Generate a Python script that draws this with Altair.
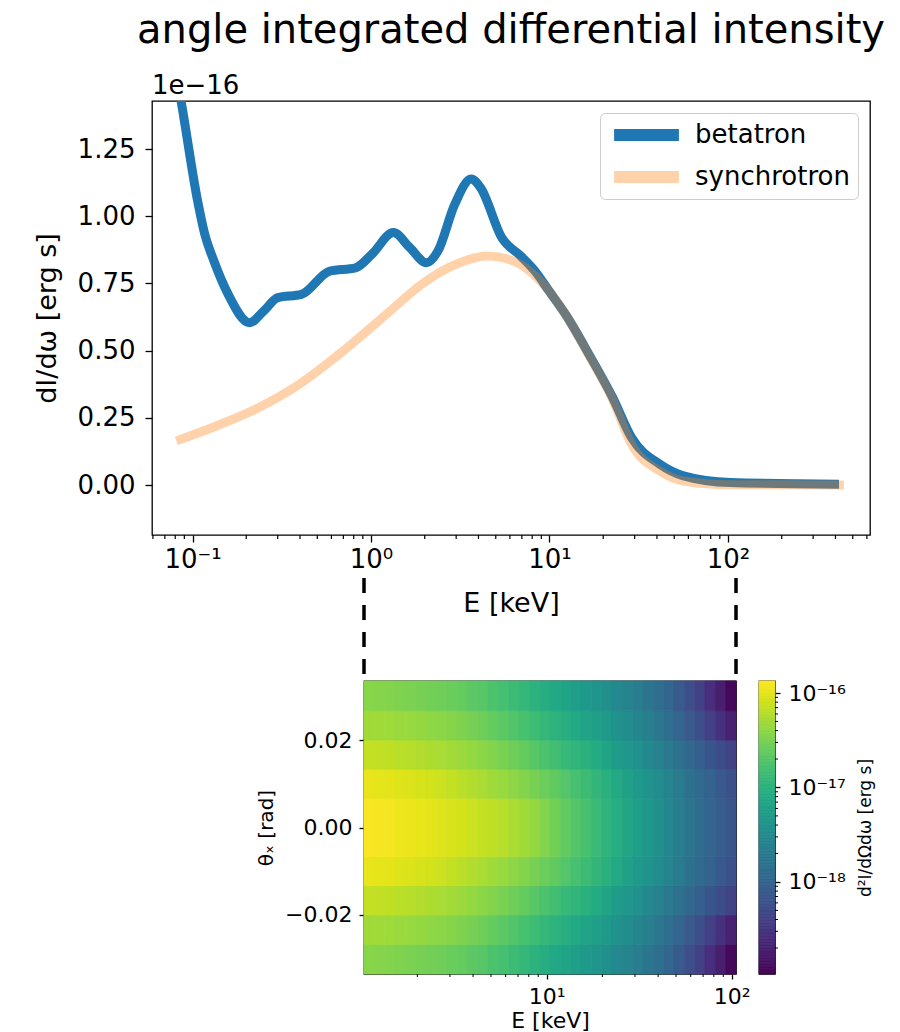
import altair as alt
import numpy as np
import pandas as pd

FONT = "DejaVu Sans"

# ---------------- top panel: angle integrated spectra (units of 1e-16 erg s)
bet_E = [0.081, 0.0862, 0.1068, 0.1170, 0.1319, 0.1580, 0.2086, 0.2502, 0.3005, 0.4075,
         0.5869, 0.8196, 1.013, 1.335, 1.652, 2.044, 2.373, 2.944, 3.641, 4.111,
         5.404, 6.899, 8.284, 9.94, 12.29, 16.64, 22.60, 28.84, 41.54, 56.33, 103.4, 418.7]
bet_I = [1.53, 1.43, 1.057, 0.934, 0.833, 0.711, 0.604, 0.647, 0.697, 0.709,
         0.796, 0.808, 0.859, 0.939, 0.883, 0.827, 0.871, 1.044, 1.138, 1.106,
         0.920, 0.852, 0.796, 0.722, 0.635, 0.486, 0.325, 0.176, 0.077, 0.034, 0.009, 0.003]
syn_E = [0.0812, 0.1282, 0.2355, 0.3835, 0.6615, 1.218, 1.981, 2.855, 4.507, 6.293,
         8.532, 12.29, 16.64, 22.60, 28.84, 41.54, 56.33, 103.4, 445.5]
syn_I = [0.164, 0.213, 0.288, 0.368, 0.486, 0.635, 0.753, 0.815, 0.852, 0.833,
         0.771, 0.635, 0.482, 0.318, 0.151, 0.052, 0.015, 0.001, 0.0]
series_names = ["betatron", "synchrotron"]
series_colors = ["#1f77b4", "rgba(255,127,14,0.35)"]
top_x_ticks = [0.1, 1, 10, 100]
top_y_ticks = [0.0, 0.25, 0.5, 0.75, 1.0, 1.25]
top_minor = [0.06, 0.07, 0.08, 0.09, 0.2, 0.3, 0.4, 0.5, 0.6, 0.7, 0.8, 0.9,
             2, 3, 4, 5, 6, 7, 8, 9, 20, 30, 40, 50, 60, 70, 80, 90, 200, 300, 400, 500, 600]

# ---------------- bottom panel: d2I/dOmega domega map (log10 of erg s)
E_edges = [1.030, 1.171, 1.332, 1.515, 1.722, 1.959, 2.228, 2.533, 2.880, 3.276, 3.725, 4.236,
           4.818, 5.479, 6.231, 7.085, 8.057, 9.162, 10.42, 11.85, 13.47, 15.32, 17.42, 19.82,
           22.53, 25.63, 29.14, 33.14, 37.69, 42.85, 48.73, 55.42, 63.03, 71.67, 81.51, 92.69, 105.4]
theta_edges = [-0.0335, -0.0267, -0.0200, -0.0133, -0.0067, 0.0067, 0.0133, 0.0200, 0.0267, 0.0335]
row_center = [-15.90, -15.91, -15.92, -15.95, -15.96, -15.98, -16.00, -16.02, -16.05, -16.08, -16.11, -16.15,
              -16.17, -16.21, -16.26, -16.31, -16.37, -16.45, -16.54, -16.62, -16.70, -16.78, -16.87, -16.96,
              -17.05, -17.15, -17.24, -17.33, -17.44, -17.55, -17.67, -17.78, -17.88, -17.98, -18.07, -18.16]
row_1 = [-15.98, -15.99, -16.00, -16.02, -16.04, -16.06, -16.08, -16.11, -16.15, -16.19, -16.23, -16.27,
         -16.31, -16.35, -16.40, -16.45, -16.51, -16.57, -16.63, -16.70, -16.78, -16.85, -16.93, -17.01,
         -17.10, -17.20, -17.29, -17.38, -17.48, -17.59, -17.70, -17.81, -17.91, -18.01, -18.12, -18.22]
row_2 = [-16.15, -16.16, -16.17, -16.19, -16.21, -16.23, -16.25, -16.27, -16.30, -16.33, -16.37, -16.41,
         -16.45, -16.50, -16.55, -16.61, -16.68, -16.75, -16.81, -16.88, -16.94, -17.00, -17.08, -17.16,
         -17.25, -17.33, -17.41, -17.51, -17.61, -17.72, -17.83, -17.93, -18.04, -18.15, -18.26, -18.38]
row_3 = [-16.31, -16.31, -16.32, -16.34, -16.35, -16.37, -16.39, -16.41, -16.44, -16.47, -16.51, -16.55,
         -16.61, -16.66, -16.71, -16.77, -16.84, -16.91, -16.97, -17.03, -17.10, -17.16, -17.23, -17.30,
         -17.39, -17.47, -17.55, -17.65, -17.75, -17.86, -17.98, -18.11, -18.24, -18.39, -18.54, -18.70]
row_4 = [-16.43, -16.44, -16.45, -16.47, -16.49, -16.51, -16.53, -16.55, -16.58, -16.61, -16.65, -16.69,
         -16.75, -16.79, -16.85, -16.91, -16.98, -17.05, -17.11, -17.17, -17.24, -17.30, -17.37, -17.44,
         -17.51, -17.59, -17.68, -17.76, -17.86, -17.97, -18.10, -18.24, -18.39, -18.56, -18.73, -18.92]
rows_bottom_to_top = [row_4, row_3, row_2, row_1, row_center, row_1, row_2, row_3, row_4]
cmin, cmax = 1.06e-19, 1.34e-16
cbar_ticks = [1e-18, 1e-17, 1e-16]
cbar_minor = [2e-19, 3e-19, 4e-19, 5e-19, 6e-19, 7e-19, 8e-19, 9e-19,
              2e-18, 3e-18, 4e-18, 5e-18, 6e-18, 7e-18, 8e-18, 9e-18,
              2e-17, 3e-17, 4e-17, 5e-17, 6e-17, 7e-17, 8e-17, 9e-17]
heat_minor = [2, 3, 4, 5, 6, 7, 8, 9, 20, 30, 40, 50, 60, 70, 80, 90]

# ---------------- tables
lines = pd.DataFrame({
    "E": bet_E + syn_E,
    "I": bet_I + syn_I,
    "series": [series_names[0]] * len(bet_E) + [series_names[1]] * len(syn_E),
    "k": list(range(len(bet_E))) + list(range(len(syn_E))),
})
cells = []
for r, prof in enumerate(rows_bottom_to_top):
    for c, lv in enumerate(prof):
        cells.append({"E0": E_edges[c], "E1": E_edges[c + 1],
                      "t0": theta_edges[r], "t1": theta_edges[r + 1],
                      "v": 10 ** lv})
cells = pd.DataFrame(cells)
stripe_edges = np.logspace(np.log10(cmin), np.log10(cmax), 201)
stripes = pd.DataFrame({"c0": stripe_edges[:-1], "c1": stripe_edges[1:],
                        "v": np.sqrt(stripe_edges[:-1] * stripe_edges[1:])})

# ---------------- top chart
TW, TH = 718, 434
xs_top = alt.Scale(type="log", domain=[0.0593, 624.6], nice=False)
ys_top = alt.Scale(domain=[-0.186, 1.4286], nice=False, zero=False)

line_layer = alt.Chart(lines).mark_line(strokeWidth=9, clip=True, interpolate="monotone").encode(
    x=alt.X("E:Q", scale=xs_top, title="E [keV]",
            axis=alt.Axis(values=top_x_ticks, tickSize=7, labelPadding=4,
                          labelExpr="datum.value < 0.5 ? '10⁻¹' : datum.value < 5 ? '10⁰' : datum.value < 50 ? '10¹' : '10²'",
                          labelFontSize=26, titleFontSize=27, titlePadding=18)),
    y=alt.Y("I:Q", scale=ys_top, title="dI/dω [erg s]",
            axis=alt.Axis(values=top_y_ticks, format=".2f", tickSize=7, labelPadding=10,
                          labelFontSize=26, titleFontSize=27, titlePadding=16)),
    color=alt.Color("series:N", scale=alt.Scale(domain=series_names, range=series_colors),
                    legend=alt.Legend(title=None, orient="top-right", offset=12, fillColor="white",
                                      strokeColor="#cccccc", cornerRadius=5, padding=8,
                                      labelFontSize=26, labelOffset=10, rowPadding=14,
                                      clipHeight=28,
                                      symbolType="stroke", symbolStrokeWidth=12, symbolSize=4200)),
    order="k:Q",
)
top_minor_layer = alt.Chart(pd.DataFrame({"E": top_minor})).mark_rule(color="black", strokeWidth=1.2).encode(
    x=alt.X("E:Q", scale=xs_top), y=alt.value(TH), y2=alt.value(TH + 4))
offset_text = alt.Chart(pd.DataFrame({"t": ["1e−16"]})).mark_text(
    align="left", baseline="alphabetic", fontSize=26, font=FONT, color="black").encode(
    text="t:N", x=alt.value(0), y=alt.value(-7))

top = alt.layer(line_layer, top_minor_layer, offset_text).properties(
    width=TW, height=TH,
    title=alt.Title("angle integrated differential intensity", fontSize=40, font=FONT,
                    fontWeight="normal", color="black", anchor="middle", frame="group", offset=22))

# ---------------- heatmap
HW, HH = 372, 293
xs_h = alt.Scale(type="log", domain=[E_edges[0], E_edges[-1]], nice=False)
ys_h = alt.Scale(domain=[theta_edges[0], theta_edges[-1]], nice=False, zero=False)
cs = alt.Scale(type="log", domain=[cmin, cmax], scheme="viridis", nice=False)

heat_rect = alt.Chart(cells).mark_rect(strokeWidth=0.8).encode(
    x=alt.X("E0:Q", scale=xs_h, title="E [keV]",
            axis=alt.Axis(values=[10, 100], tickSize=5, labelPadding=7,
                          labelExpr="datum.value < 50 ? '10¹' : '10²'",
                          labelFontSize=22, titleFontSize=22, titlePadding=3)),
    x2="E1:Q",
    y=alt.Y("t0:Q", scale=ys_h, title="θₓ [rad]",
            axis=alt.Axis(values=[-0.02, 0.0, 0.02], format=".2f", tickSize=5, labelPadding=7,
                          labelFontSize=22, titleFontSize=20, titlePadding=8)),
    y2="t1:Q",
    color=alt.Color("v:Q", scale=cs, legend=None),
    stroke=alt.Stroke("v:Q", scale=cs, legend=None),
)
dash_layer = alt.Chart(pd.DataFrame({"E0": [E_edges[0], E_edges[-1]]})).mark_rule(
    color="black", strokeWidth=3.5, strokeDash=[15, 12]).encode(
    x=alt.X("E0:Q", scale=xs_h), y=alt.value(-103), y2=alt.value(0))
heat_minor_layer = alt.Chart(pd.DataFrame({"E0": heat_minor})).mark_rule(color="black", strokeWidth=1).encode(
    x=alt.X("E0:Q", scale=xs_h), y=alt.value(HH), y2=alt.value(HH + 3))
heat = alt.layer(heat_rect, dash_layer, heat_minor_layer).properties(width=HW, height=HH)

# ---------------- colorbar
cbar_rect = alt.Chart(stripes).mark_rect(strokeWidth=0.8).encode(
    x=alt.value(0), x2=alt.value(16),
    y=alt.Y("c0:Q", scale=alt.Scale(type="log", domain=[cmin, cmax], nice=False),
            title="d²I/dΩdω [erg s]",
            axis=alt.Axis(orient="right", values=cbar_ticks, tickSize=5, labelPadding=8,
                          labelExpr="datum.value > 5e-17 ? '10⁻¹⁶' : datum.value > 5e-18 ? '10⁻¹⁷' : '10⁻¹⁸'",
                          labelFontSize=22, titleFontSize=17, titleAngle=270, titleBaseline="top",
                          titlePadding=12)),
    y2="c1:Q",
    color=alt.Color("v:Q", scale=cs, legend=None),
    stroke=alt.Stroke("v:Q", scale=cs, legend=None),
)
cbar_minor_layer = alt.Chart(pd.DataFrame({"c0": cbar_minor})).mark_rule(color="black", strokeWidth=1).encode(
    y=alt.Y("c0:Q", scale=alt.Scale(type="log", domain=[cmin, cmax], nice=False)),
    x=alt.value(16), x2=alt.value(19))
cbar = alt.layer(cbar_rect, cbar_minor_layer).properties(width=16, height=HH)

spacer = alt.Chart(pd.DataFrame({"a": [0]})).mark_point(opacity=0).encode(
    x=alt.X("a:Q", axis=None), y=alt.Y("a:Q", axis=None)).properties(
    width=189, height=10, view=alt.ViewBackground(strokeOpacity=0))

bottom = alt.hconcat(spacer, heat, cbar, spacing=23, bounds="flush")

chart = alt.vconcat(top, bottom, spacing=146, bounds="flush").properties(
    padding={"left": 32, "top": 10, "right": 5, "bottom": 5}
).configure(font=FONT).configure_view(stroke="black", strokeWidth=1.3).configure_axis(
    grid=False, domain=False, tickColor="black", labelColor="black", titleColor="black",
    titleFontWeight="normal", labelFont=FONT, titleFont=FONT, tickWidth=1.3
).configure_legend(labelFont=FONT, labelColor="black")

chart.save("out.html", embed_options={"renderer": "svg", "actions": False})
